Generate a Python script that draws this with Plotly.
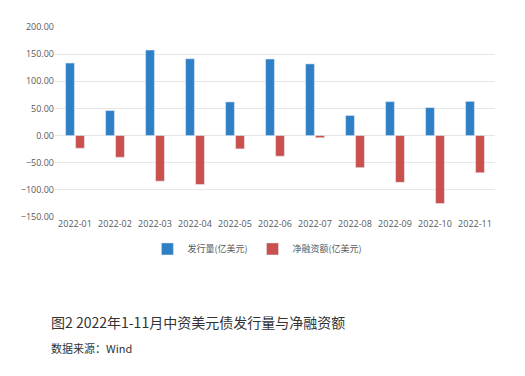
import plotly.graph_objects as go

months = ["2022-01", "2022-02", "2022-03", "2022-04", "2022-05", "2022-06",
          "2022-07", "2022-08", "2022-09", "2022-10", "2022-11"]
issuance = [133.6, 46, 157.5, 141.5, 62, 141, 132, 37, 62.5, 51.5, 63]
net_financing = [-23.3, -40, -84, -90, -24.5, -38, -4, -59, -86, -125, -68.5]
y_ticks = [-150, -100, -50, 0, 50, 100, 150, 200]

fig = go.Figure()
fig.add_trace(go.Bar(x=months, y=issuance, name="发行量(亿美元)", marker_color="#2e7fc6"))
fig.add_trace(go.Bar(x=months, y=net_financing, name="净融资额(亿美元)", marker_color="#c9504d"))

fig.update_layout(
    width=525, height=376,
    margin=dict(l=55, r=30, t=27, b=159),
    paper_bgcolor="white", plot_bgcolor="white",
    barmode="group", bargap=0.5, bargroupgap=0.12,
    font=dict(family="Open Sans, Noto Sans CJK SC", size=9, color="#595959"),
    showlegend=True,
    legend=dict(orientation="h", x=0.46, xanchor="center", y=-0.168, yanchor="middle",
                font=dict(family="Noto Sans CJK SC", size=9, color="#595959"),
                itemwidth=30, tracegroupgap=0),
    xaxis=dict(type="category", showgrid=False, showline=False, ticks="", tickfont=dict(size=9)),
    yaxis=dict(range=[-150, 200], tickvals=y_ticks, tickformat=".2f",
               showgrid=True, gridcolor="#e6e6e6", gridwidth=1, zeroline=False,
               showline=False, ticks="", tickfont=dict(size=9)),
    annotations=[
        dict(text="图2 2022年1-11月中资美元债发行量与净融资额", xref="paper", yref="paper",
             x=-0.014, y=-0.553, xanchor="left", yanchor="middle", showarrow=False,
             font=dict(family="Noto Sans CJK SC", size=14, color="#333333")),
        dict(text="数据来源：Wind", xref="paper", yref="paper",
             x=-0.014, y=-0.69, xanchor="left", yanchor="middle", showarrow=False,
             font=dict(family="Noto Sans CJK SC", size=11, color="#333333")),
    ],
)

fig.write_html("out.html", config={"displayModeBar": False},
               post_script="document.body.style.margin='0';")
